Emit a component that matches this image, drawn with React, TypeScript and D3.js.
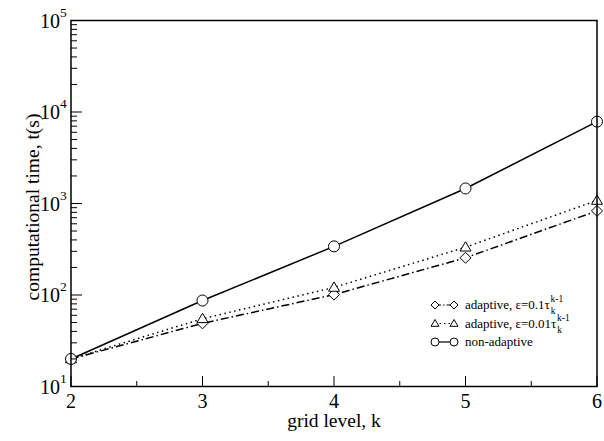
import React from 'react';
import * as d3 from 'd3';

const levels = [2, 3, 4, 5, 6];
const adaptive01 = [20, 49, 101, 255, 830];
const adaptive001 = [20, 55, 121, 333, 1080];
const nonAdaptive = [20, 87, 340, 1460, 7850];
const xTicks = [2, 3, 4, 5, 6];
const yExps = [1, 2, 3, 4, 5];

const W = 604;
const H = 441;
const FONT = '"Liberation Serif", "DejaVu Serif", serif';

const App = () => {
  const x = d3.scaleLinear().domain([2, 6]).range([71, 597]);
  const y = d3.scaleLog().domain([10, 1e5]).range([386.5, 20.5]);

  const line = d3.line<number>()
    .x((d, i) => x(levels[i]))
    .y(d => y(d));

  // minor log ticks 2..9 in each decade
  const minorY: number[] = [];
  for (let e = 1; e < 5; e++) {
    for (let m = 2; m < 10; m++) minorY.push(m * Math.pow(10, e));
  }
  const minorX = [2.5, 3.5, 4.5, 5.5];

  const diamond = (cx: number, cy: number, r: number) =>
    `M${cx},${cy - r}L${cx + r},${cy}L${cx},${cy + r}L${cx - r},${cy}Z`;
  const triangle = (cx: number, cy: number, r: number) =>
    `M${cx},${cy - r}L${cx + r},${cy + r * 0.7}L${cx - r},${cy + r * 0.7}Z`;

  const legendRows = [
    { key: 'd', dash: '6 2 1.5 2', eps: '0.1' },
    { key: 't', dash: '1.5 3', eps: '0.01' },
    { key: 'c', dash: null, eps: null },
  ];

  const marker = (key: string, cx: number, cy: number, r = 5.5) => {
    if (key === 'd') return <path d={diamond(cx, cy, r)} fill="white" stroke="black" strokeWidth={1} />;
    if (key === 't') return <path d={triangle(cx, cy, r)} fill="white" stroke="black" strokeWidth={1} />;
    return <circle cx={cx} cy={cy} r={r} fill="white" stroke="black" strokeWidth={1} />;
  };

  return (
    <svg width={W} height={H} style={{ position: 'absolute', left: 0, top: 0, background: 'white' }}>
      {/* series lines */}
      <path d={line(adaptive01) || ''} fill="none" stroke="black" strokeWidth={1.5} strokeDasharray="8 3 1.5 3" />
      <path d={line(adaptive001) || ''} fill="none" stroke="black" strokeWidth={1.5} strokeDasharray="1.5 3.5" />
      <path d={line(nonAdaptive) || ''} fill="none" stroke="black" strokeWidth={1.5} />

      {adaptive01.map((v, i) => <g key={'d' + i}>{marker('d', x(levels[i]), y(v))}</g>)}
      {adaptive001.map((v, i) => <g key={'t' + i}>{marker('t', x(levels[i]), y(v))}</g>)}
      {nonAdaptive.map((v, i) => <g key={'c' + i}>{marker('c', x(levels[i]), y(v))}</g>)}

      {/* frame */}
      <rect x={71} y={20.5} width={526} height={366} fill="none" stroke="black" strokeWidth={1.5} />

      {/* y ticks */}
      {yExps.map(e => (
        <line key={'ym' + e} x1={71} x2={82} y1={y(Math.pow(10, e))} y2={y(Math.pow(10, e))} stroke="black" strokeWidth={1} />
      ))}
      {minorY.map(v => (
        <line key={'yn' + v} x1={71} x2={77} y1={y(v)} y2={y(v)} stroke="black" strokeWidth={1} />
      ))}
      {/* x ticks */}
      {xTicks.map(t => (
        <line key={'xm' + t} x1={x(t)} x2={x(t)} y1={386.5} y2={376} stroke="black" strokeWidth={1} />
      ))}
      {minorX.map(t => (
        <line key={'xn' + t} x1={x(t)} x2={x(t)} y1={386.5} y2={381} stroke="black" strokeWidth={1} />
      ))}

      {/* tick labels */}
      {xTicks.map(t => (
        <text key={'xl' + t} x={x(t)} y={408} textAnchor="middle" fontFamily={FONT} fontSize={20}>{t}</text>
      ))}
      {yExps.map(e => (
        <text key={'yl' + e} x={60} y={y(Math.pow(10, e)) + 7} textAnchor="end" fontFamily={FONT} fontSize={20}>10</text>
      ))}
      {yExps.map(e => (
        <text key={'ys' + e} x={60} y={y(Math.pow(10, e)) - 4} fontFamily={FONT} fontSize={13.5}>{e}</text>
      ))}

      {/* axis titles */}
      <text x={334} y={427} textAnchor="middle" fontFamily={FONT} fontSize={19.5}>grid level, k</text>
      <text transform="translate(39,207) rotate(-90)" textAnchor="middle" fontFamily={FONT} fontSize={19.5}>
        computational time, t(s)
      </text>

      {/* legend */}
      {legendRows.map((r, i) => {
        const ly = 305 + i * 18.5;
        return (
          <g key={r.key}>
            <line x1={435} x2={454} y1={ly} y2={ly} stroke="black" strokeWidth={1.2}
              strokeDasharray={r.dash || undefined} />
            {marker(r.key, 435, ly, 4)}
            {marker(r.key, 454, ly, 4)}
            {r.eps ? (
              <text x={465} y={ly + 4} fontFamily={FONT} fontSize={13}>
                adaptive, ε={r.eps}τ
                <tspan fontSize={9.5} dx={1} dy={5}>k</tspan>
                <tspan fontSize={9.5} dx={-5} dy={-12}>k-1</tspan>
              </text>
            ) : (
              <text x={465} y={ly + 4} fontFamily={FONT} fontSize={13}>non-adaptive</text>
            )}
          </g>
        );
      })}
    </svg>
  );
};

export default App;
